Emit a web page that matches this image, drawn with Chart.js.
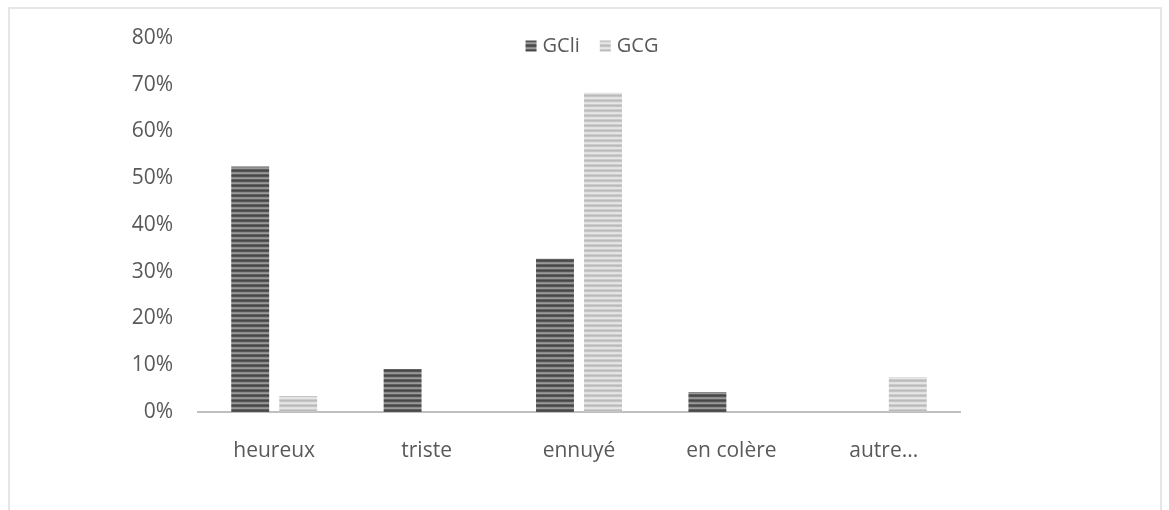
<!DOCTYPE html>
<html>
<head>
<meta charset="utf-8">
<script src="https://cdn.jsdelivr.net/npm/chart.js@4.4.1/dist/chart.umd.min.js"></script>
<style>
  html, body { margin: 0; padding: 0; background: #fff; }
  #wrap { position: relative; width: 1169px; height: 510px; overflow: hidden; }
  #frame { position: absolute; left: 8px; top: 7px; width: 1154px; height: 520px; border: 2px solid #e6e6e6; box-sizing: border-box; }
  canvas { position: absolute; left: 0; top: 0; }
</style>
</head>
<body>
<div id="wrap">
  <div id="frame"></div>
  <canvas id="chart" width="1169" height="510"></canvas>
</div>
<script>
const categories = ['heureux', 'triste', 'ennuyé', 'en colère', 'autre...'];
const gcliValues = [0.525, 0.092, 0.328, 0.043, 0];
const gcgValues = [0.034, 0, 0.683, 0, 0.075];
const seriesNames = ['GCli', 'GCG'];

const FONT = '"Open Sans", sans-serif';
const TEXT = '#595959';

// horizontal stripes, like the scanned print
function stripes(colors) {
  const c = document.createElement('canvas');
  c.width = 1;
  c.height = colors.length;
  const g = c.getContext('2d');
  colors.forEach((col, i) => {
    g.fillStyle = col;
    g.fillRect(0, i, 1, 1);
  });
  return g.createPattern(c, 'repeat');
}

// legend sitting inside the plot area, like Excel does it
const insideLegend = {
  id: 'insideLegend',
  afterDraw(chart) {
    const g = chart.ctx;
    const area = chart.chartArea;
    const sets = chart.data.datasets;
    g.save();
    g.font = '20px ' + FONT;
    g.textBaseline = 'middle';
    const box = 11, gap = 6, spacing = 20;
    const widths = sets.map(d => box + gap + g.measureText(d.label).width);
    const total = widths.reduce((a, b) => a + b, 0) + spacing * (sets.length - 1);
    let x = (area.left + area.right) / 2 + 13 - total / 2;
    const y = area.top + 8;
    sets.forEach((d, i) => {
      g.fillStyle = d.backgroundColor;
      g.fillRect(x, y - box / 2, box, box);
      g.fillStyle = TEXT;
      g.fillText(d.label, x + box + gap, y);
      x += widths[i] + spacing;
    });
    g.restore();
  }
};

const ctx = document.getElementById('chart').getContext('2d');
const darkFill = stripes(['#474747', '#555555', '#8a8a8a', '#9a9a9a', '#606060']);
const lightFill = stripes(['#bababa', '#c6c6c6', '#e0e0e0', '#e6e6e6', '#cccccc']);

new Chart(ctx, {
  type: 'bar',
  data: {
    labels: categories,
    datasets: [
      { label: seriesNames[0], data: gcliValues, backgroundColor: darkFill, borderWidth: 0 },
      { label: seriesNames[1], data: gcgValues, backgroundColor: lightFill, borderWidth: 0 }
    ]
  },
  plugins: [insideLegend],
  options: {
    responsive: false,
    animation: false,
    devicePixelRatio: 1,
    categoryPercentage: 0.63,
    barPercentage: 0.79,
    layout: { padding: { left: 0, right: 209, top: 38, bottom: 0 } },
    plugins: {
      tooltip: { enabled: false },
      legend: { display: false }
    },
    scales: {
      x: {
        grid: { display: false },
        border: { display: true, color: '#bfbfbf', width: 2 },
        ticks: {
          color: TEXT,
          padding: 18,
          font: { family: FONT, size: 21 }
        },
        afterFit: (s) => { s.height = 98; }
      },
      y: {
        min: 0,
        max: 0.8,
        grid: { display: false },
        border: { display: false },
        ticks: {
          stepSize: 0.1,
          color: TEXT,
          padding: 17,
          font: { family: FONT, size: 21 },
          callback: (v) => Math.round(v * 100) + '%'
        },
        afterFit: (s) => { s.width = 198; }
      }
    }
  }
});
</script>
</body>
</html>
